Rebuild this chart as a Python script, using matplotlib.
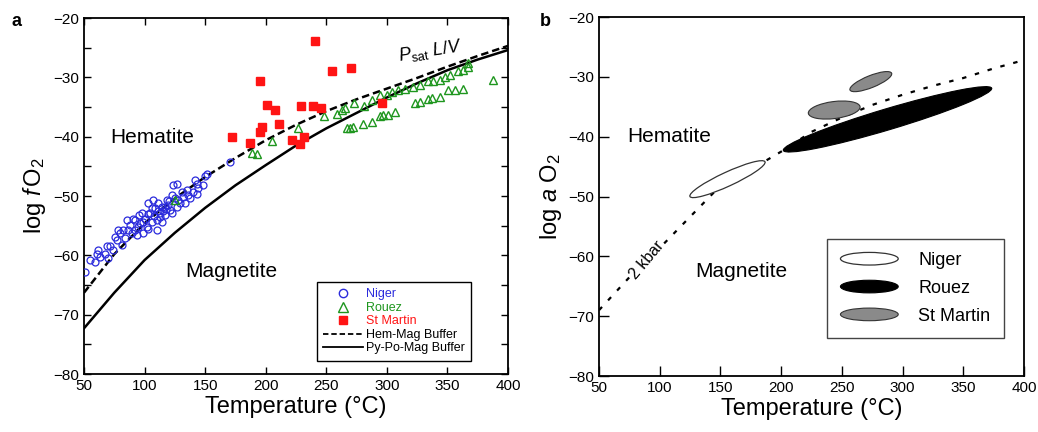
import numpy as np
import matplotlib
matplotlib.use('Agg')
import matplotlib.pyplot as plt
import matplotlib.patches as mpatches
import matplotlib.transforms as mtransforms
from matplotlib.legend_handler import HandlerPatch
from matplotlib.lines import Line2D

plt.rcParams['font.family'] = ['Liberation Sans', 'DejaVu Sans']
plt.rcParams['mathtext.fontset'] = 'custom'
plt.rcParams['mathtext.rm'] = 'Liberation Sans'
plt.rcParams['mathtext.it'] = 'Liberation Sans:italic'
plt.rcParams['mathtext.bf'] = 'Liberation Sans:bold'

# ---- panel a: fluid inclusion data (T in C, log fO2)
niger_T = [50.8, 55.0, 59.1, 60.5, 61.8, 63.2, 67.3, 68.7, 70.1, 71.5, 74.2, 75.6, 77.0, 78.3,
           79.7, 81.1, 82.5, 83.8, 85.2, 88.0, 89.3, 90.7, 92.1, 92.1, 93.5, 94.9, 96.2, 97.6,
           99.0, 99.0, 100.4, 101.7, 103.1, 103.1, 104.5, 105.9, 105.9, 107.2, 108.6, 110.0,
           110.0, 111.4, 111.4, 112.7, 114.1, 114.1, 115.5, 116.9, 116.9, 118.2, 119.6, 121.0,
           122.4, 122.4, 123.7, 125.1, 126.5, 126.5, 129.3, 130.6, 132.0, 133.4, 134.8, 136.1,
           137.5, 140.3, 141.6, 143.0, 143.0, 144.4, 148.5, 149.9, 151.3, 170.5,
           86.0, 95.5, 102.5, 108.0, 113.0, 118.0, 120.5, 127.5]
niger_f = [-62.8, -60.8, -61.1, -59.7, -59.1, -60.2, -59.7, -58.5, -60.5, -58.5, -59.1, -56.9,
           -57.4, -55.7, -56.3, -58.3, -55.7, -57.1, -54.0, -54.9, -56.3, -53.8, -55.7, -54.0,
           -56.6, -55.2, -54.6, -52.9, -56.3, -54.3, -53.8, -55.2, -51.2, -55.5, -52.9, -54.3,
           -52.1, -50.7, -52.1, -54.0, -55.7, -52.6, -51.2, -53.5, -51.8, -54.3, -52.6, -53.2,
           -51.8, -50.7, -51.5, -52.4, -49.8, -52.9, -48.2, -50.4, -47.9, -51.8, -51.2, -49.3,
           -50.1, -51.2, -49.0, -49.8, -50.4, -49.3, -47.3, -47.9, -49.6, -48.7, -48.1, -46.7,
           -46.3, -44.2,
           -55.8, -53.2, -53.0, -53.3, -52.9, -52.2, -50.9, -50.6]

rouez_T = [125.1, 189.0, 193.1, 204.9, 226.9, 248.1, 258.6, 262.7, 265.5, 272.9, 281.4, 287.5,
           294.4, 299.9, 304.0, 309.5, 315.0, 321.9, 327.4, 334.3, 338.4, 343.9, 348.0, 352.1,
           359.0, 363.1, 367.3, 367.3, 266.8, 269.6, 272.3, 280.6, 287.5, 294.4, 297.1, 301.2,
           306.7, 323.3, 327.4, 334.3, 337.0, 343.9, 350.8, 356.3, 363.1, 387.9]
rouez_f = [-50.7, -42.7, -42.9, -40.7, -38.5, -36.6, -36.1, -35.5, -35.1, -34.4, -34.8, -33.8,
           -33.0, -32.9, -32.4, -32.1, -31.9, -31.7, -31.3, -30.7, -30.7, -30.4, -29.9, -29.6,
           -29.0, -28.8, -28.2, -27.6, -38.6, -38.6, -38.4, -37.8, -37.6, -36.6, -36.3, -36.3,
           -35.8, -34.4, -34.2, -33.7, -33.4, -33.3, -32.1, -32.1, -31.9, -30.4]

stmartin_T = [172, 187, 195, 197, 195, 201, 208, 211, 222, 228, 232, 229, 239, 241, 246, 255,
              270, 296]
stmartin_f = [-40.0, -41.1, -39.2, -38.4, -30.6, -34.7, -35.5, -37.9, -40.5, -41.2, -40.1,
              -34.8, -34.8, -23.9, -35.1, -28.9, -28.4, -34.3]

buf_T = [50, 75, 100, 125, 150, 175, 200, 225, 250, 275, 300, 325, 350, 375, 400]
hemmag = [-66.3, -59.8, -54.6, -50.4, -46.8, -43.6, -40.6, -38.0, -35.7, -33.7, -31.9, -30.1,
          -28.2, -26.4, -24.7]
pypomag = [-72.3, -66.3, -60.8, -56.2, -52.0, -48.2, -44.8, -41.5, -38.6, -36.0, -33.4, -31.0,
           -28.8, -27.0, -25.4]

# ---- panel b: 2 kbar hem-mag curve and sample fields (log aO2)
kbar_T = [50, 75, 100, 125, 150, 175, 200, 225, 250, 275, 300, 325, 350, 375, 400]
kbar_a = [-69.0, -63.5, -58.6, -53.4, -48.2, -45.5, -42.5, -39.2, -36.8, -34.7, -33.0, -31.5,
          -30.2, -28.6, -27.2]

# field ellipses: major-axis end points
field_names = ['Niger', 'Rouez', 'St Martin', 'St Martin']
field_T1 = [124.9, 201.8, 222.4, 256.7]
field_a1 = [-50.0, -42.3, -36.1, -32.2]
field_T2 = [186.7, 373.4, 265.0, 291.0]
field_a2 = [-44.2, -31.9, -35.0, -29.4]

fig = plt.figure(figsize=(10.38, 4.32), dpi=100)
W, H = 1038, 432

blue = '#2b2bdc'
green = '#1e961e'
red = '#ff1414'

# ---------------- panel a
ax = fig.add_axes([84 / W, 1 - 374 / H, 424 / W, 356 / H])
ax.plot(niger_T, niger_f, 'o', mfc='none', mec=blue, ms=5, mew=0.9, zorder=3)
ax.plot(rouez_T, rouez_f, '^', mfc='none', mec=green, ms=6.2, mew=1.0, zorder=3)
ax.plot(stmartin_T, stmartin_f, 's', mfc=red, mec=red, ms=5.6, zorder=4)
ax.plot(buf_T, hemmag, color='k', lw=1.8, ls=(0, (3, 1.6)), zorder=2)
ax.plot(buf_T, pypomag, color='k', lw=1.8, zorder=2)

ax.set_xlim(50, 400)
ax.set_ylim(-80, -20)
ax.set_xticks(np.arange(50, 401, 50))
ax.set_yticks(np.arange(-80, -19, 10))
ax.set_yticks(np.arange(-75, -20, 10), minor=True)
ax.tick_params(which='both', direction='in', top=True, right=True, length=5, width=1,
               labelsize=11)
for s in ax.spines.values():
    s.set_linewidth(1.3)
ax.set_xlabel('Temperature (°C)', fontsize=17, labelpad=2)
ax.set_ylabel(r'log $\mathit{f}\,$O$_2$', fontsize=17, labelpad=4)

ax.text(0.061, 0.663, 'Hematite', transform=ax.transAxes, fontsize=15, va='center')
ax.text(0.238, 0.287, 'Magnetite', transform=ax.transAxes, fontsize=15, va='center')
ax.text(336, -25.6, r'$\mathit{P}_{\mathrm{sat}}$ $\mathit{L/V}$', fontsize=13,
        rotation=9, ha='center', va='center')

h_a = [Line2D([], [], ls='none', marker='o', mfc='none', mec=blue, ms=6),
       Line2D([], [], ls='none', marker='^', mfc='none', mec=green, ms=7),
       Line2D([], [], ls='none', marker='s', mfc=red, mec=red, ms=6),
       Line2D([], [], color='k', lw=1.3, ls=(0, (3, 1.6))),
       Line2D([], [], color='k', lw=1.3)]
leg = ax.legend(h_a, ['Niger', 'Rouez', 'St Martin', 'Hem-Mag Buffer', 'Py-Po-Mag Buffer'],
                loc='lower left', bbox_to_anchor=(0.535, 0.02), fontsize=9,
                handlelength=3.2, handletextpad=0.2, labelspacing=0.12,
                borderpad=0.5, fancybox=False, edgecolor='k', framealpha=1)
leg.get_frame().set_linewidth(1)
for t, c in zip(leg.get_texts(), [blue, green, red, 'k', 'k']):
    t.set_color(c)

fig.text(12 / W, 1 - 22 / H, 'a', fontsize=13, fontweight='bold', va='center')

# ---------------- panel b
bx = fig.add_axes([599 / W, 1 - 376 / H, 425 / W, 359 / H])
bx.plot(kbar_T, kbar_a, color='k', lw=1.6, ls=(0, (2, 4)), zorder=2)
bx.set_xlim(50, 400)
bx.set_ylim(-80, -20)
bx.set_xticks(np.arange(50, 401, 50))
bx.set_yticks(np.arange(-80, -19, 10))
bx.tick_params(direction='in', length=7, width=1, labelsize=11)
for s in bx.spines.values():
    s.set_linewidth(1.3)
bx.set_xlabel('Temperature (°C)', fontsize=17, labelpad=2)
bx.set_ylabel(r'log $\mathit{a}$ O$_2$', fontsize=17, labelpad=3)

# ellipses drawn in a space where 1 C and k log units have the same pixel length
pos = bx.get_position()
px_per_T = pos.width * W / 350.0
px_per_a = pos.height * H / 60.0
k = px_per_a / px_per_T
etr = mtransforms.Affine2D().scale(1, 1 / k) + bx.transData
thick_px = [14, 21, 17, 12]
styles = [dict(fc='white', ec='#333333', lw=0.9),
          dict(fc='black', ec='black', lw=0.8),
          dict(fc='#8a8a8a', ec='#333333', lw=0.8),
          dict(fc='#8a8a8a', ec='#333333', lw=0.8)]
for i in range(len(field_names)):
    x1, y1 = field_T1[i], field_a1[i] * k
    x2, y2 = field_T2[i], field_a2[i] * k
    L = np.hypot(x2 - x1, y2 - y1)
    ang = np.degrees(np.arctan2(y2 - y1, x2 - x1))
    e = mpatches.Ellipse(((x1 + x2) / 2, (y1 + y2) / 2), L, thick_px[i] / px_per_T,
                         angle=ang, transform=etr, zorder=3, **styles[i])
    bx.add_patch(e)

bx.text(0.066, 0.666, 'Hematite', transform=bx.transAxes, fontsize=15, va='center')
bx.text(0.226, 0.29, 'Magnetite', transform=bx.transAxes, fontsize=15, va='center')
bx.text(89.5, -60.6, '2 kbar', fontsize=11.5, rotation=50, ha='center', va='center',
        bbox=dict(fc='white', ec='none', pad=0.5), zorder=2.5)


def make_ell(legend, orig_handle, xdescent, ydescent, width, height, fontsize):
    return mpatches.Ellipse((width / 2 - xdescent, height / 2 - ydescent), width, height)


h_b = [mpatches.Ellipse((0, 0), 1, 1, **styles[0]),
       mpatches.Ellipse((0, 0), 1, 1, **styles[1]),
       mpatches.Ellipse((0, 0), 1, 1, **styles[2])]
leg2 = bx.legend(h_b, field_names[:3], loc='lower left', bbox_to_anchor=(0.515, 0.08),
                 fontsize=13, handlelength=3.2, handleheight=0.7, handletextpad=1.1,
                 labelspacing=0.6, borderpad=0.75, fancybox=False, edgecolor='#444444',
                 framealpha=1, handler_map={mpatches.Ellipse: HandlerPatch(patch_func=make_ell)})
leg2.get_frame().set_linewidth(1)

fig.text(540 / W, 1 - 22 / H, 'b', fontsize=13, fontweight='bold', va='center')

fig.savefig('out.png', dpi=100)
